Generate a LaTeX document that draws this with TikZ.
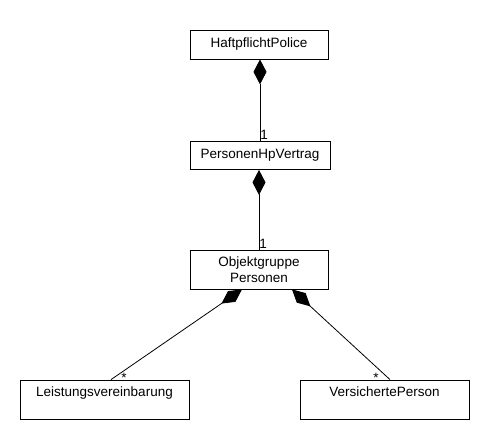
\documentclass[tikz,border=0pt]{standalone}
\usepackage{fontspec}
\setmainfont{Liberation Sans}
\usepackage{tikz}
\usetikzlibrary{arrows.meta}

\begin{document}
\begin{tikzpicture}[x=1pt,y=-1pt,inner sep=0pt,
  klasse/.style={rectangle,draw=black,line width=.8pt,align=center,font=\fontsize{13.5}{16}\selectfont},
  komp/.style={line width=.8pt,-{Diamond[length=25pt,width=13pt]}},
  mult/.style={font=\fontsize{13.5}{16}\selectfont,inner sep=1pt}]
\useasboundingbox (0,0) rectangle (490,440);
\node at (259,44.5) [klasse,minimum width=138,minimum height=29] (hp) {HaftpflichtPolice};
\node at (260,155.5) [klasse,minimum width=140,minimum height=28] (phv) {PersonenHpVertrag};
\node at (259,269.5) [klasse,minimum width=138,minimum height=39] (obj) {Objektgruppe\\Personen};
\node at (104.5,399.5) [klasse,minimum width=169,minimum height=39] (lv) {Leistungsvereinbarung\\~};
\node at (384.5,399.5) [klasse,minimum width=169,minimum height=39] (vp) {VersichertePerson\\~};
\draw[komp] (phv.north) node[mult,anchor=south west,xshift=-1pt] (m1) {1} -- (phv.north |- hp.south);
\draw[komp] (obj.north) node[mult,anchor=south west,xshift=-1pt] (m2) {1} -- (obj.north |- phv.south);
\draw[komp] ([xshift=6.5]lv.north) node[mult,anchor=south west,xshift=9pt,yshift=-4pt] (m3) {*} -- ([xshift=-17]obj.south);
\draw[komp] ([xshift=5.5]vp.north) node[mult,anchor=south east,xshift=-10pt,yshift=-4pt] (m4) {*} -- ([xshift=33]obj.south);
\end{tikzpicture}
\end{document}
